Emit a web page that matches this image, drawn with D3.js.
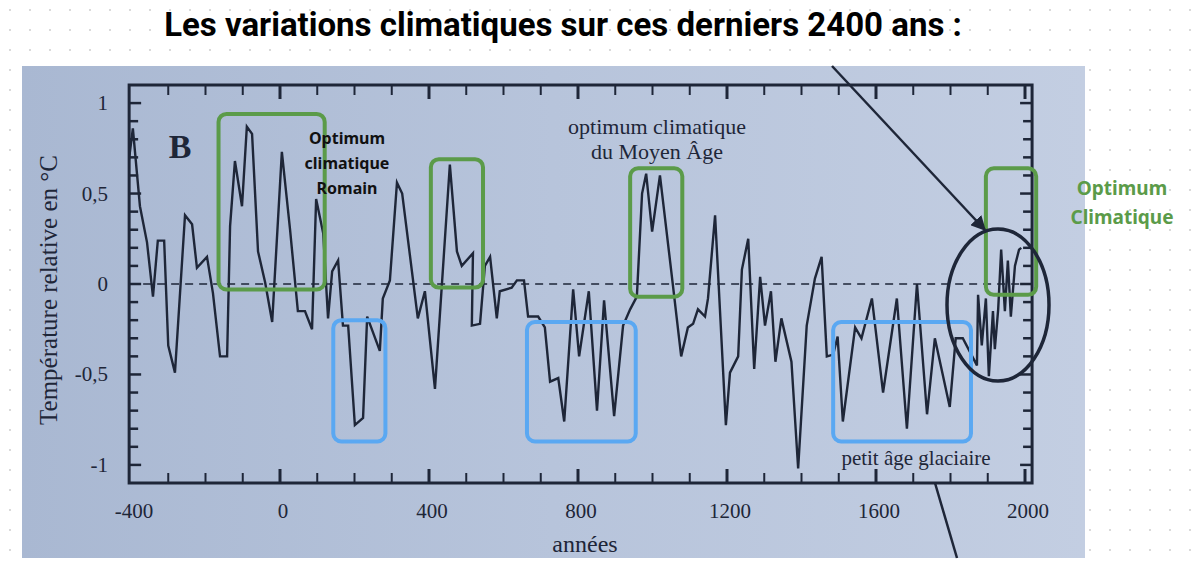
<!DOCTYPE html>
<html><head><meta charset="utf-8">
<script src="https://cdn.jsdelivr.net/npm/d3@7"></script>
<style>body{margin:0;background:#fff}svg{display:block}</style></head>
<body><svg id="c" width="1200" height="567"></svg>
<script>
const years=[-423,-395,-376,-357,-341,-328,-311,-300,-282,-255,-236,-223,-196,-180,-161,-142,-134,-121,-102,-89,-75,-59,-40,-21,5,27,48,67,86,97,116,129,140,156,169,183,201,223,234,268,276,295,314,328,370,389,416,456,475,488,518,515,537,550,564,582,590,622,636,655,666,693,711,725,747,763,787,803,829,851,870,897,921,940,958,972,983,999,1020,1055,1077,1095,1109,1122,1141,1149,1168,1197,1208,1230,1240,1257,1273,1289,1302,1318,1330,1346,1373,1391,1414,1436,1454,1468,1485,1497,1511,1544,1561,1589,1619,1656,1683,1710,1737,1758,1798,1814,1833,1871,1874,1884,1895,1903,1914,1919,1928,1936,1946,1954,1962,1973,1984,1990];
const temps=[0.4,0.86,0.43,0.23,-0.07,0.24,0.24,-0.34,-0.49,0.38,0.33,0.09,0.15,-0.05,-0.4,-0.4,0.32,0.68,0.43,0.87,0.83,0.18,0.01,-0.21,0.73,0.3,-0.15,-0.15,-0.25,0.47,0.28,-0.19,0.07,0.13,-0.23,-0.23,-0.78,-0.74,-0.18,-0.37,-0.08,0.02,0.56,0.5,-0.19,-0.04,-0.58,0.66,0.18,0.1,0.17,-0.23,-0.22,0.1,0.15,-0.19,-0.04,-0.02,0.02,0.02,-0.18,-0.18,-0.24,-0.54,-0.52,-0.76,-0.03,-0.4,-0.04,-0.7,-0.09,-0.73,-0.23,-0.14,-0.07,0.5,0.61,0.29,0.6,-0.01,-0.4,-0.24,-0.22,-0.14,-0.18,-0.08,0.38,-0.78,-0.49,-0.4,0.08,0.25,-0.47,0.04,-0.23,-0.04,-0.43,-0.19,-0.43,-1.02,-0.23,0.03,0.15,-0.4,-0.39,-0.29,-0.76,-0.24,-0.3,-0.08,-0.6,-0.08,-0.8,0,-0.72,-0.3,-0.68,-0.3,-0.3,-0.45,-0.06,-0.34,-0.08,-0.51,-0.15,-0.36,-0.14,0.19,-0.15,0.13,-0.18,0.1,0.19,0.2];
const xTicks=[-400,0,400,800,1200,1600,2000];
const yTicks=[1,0.5,0,-0.5,-1];
const yTickLabels=["1","0,5","0","-0,5","-1"];
const greenBoxes=[[-165,120,0.94,-0.03],[405,545,0.69,-0.02],[940,1080,0.64,-0.07],[1895,2030,0.64,-0.06]];
const blueBoxes=[[143,283,-0.2,-0.87],[663,955,-0.21,-0.87],[1485,1855,-0.21,-0.87]];

const svg=d3.select("#c");
const dots=svg.append("g");
for(let x=10;x<1200;x+=20)for(let y=10;y<567;y+=20)dots.append("circle").attr("cx",x).attr("cy",y).attr("r",0.9).attr("fill","#c8c8c8");
const grad=svg.append("defs").append("linearGradient").attr("id","pg").attr("x1",0).attr("x2",1);
grad.append("stop").attr("offset",0).attr("stop-color","#a9b8d2");
grad.append("stop").attr("offset",0.5).attr("stop-color","#b7c4db");
grad.append("stop").attr("offset",1).attr("stop-color","#c3cee2");
svg.append("rect").attr("x",22).attr("y",66).attr("width",1063).attr("height",492).attr("fill","url(#pg)");
svg.append("text").attr("x",563).attr("y",36).attr("text-anchor","middle").attr("font-family","Roboto, 'Noto Sans', sans-serif").attr("font-weight",700).attr("font-size",33).attr("fill","#000").text("Les variations climatiques sur ces derniers 2400 ans :");

const x=d3.scaleLinear().domain([-400,2000]).range([131,1025]);
const y=d3.scaleLinear().domain([-1.1,1.1]).range([483,85]);
const ink="#1e2638", serif="'Liberation Serif','DejaVu Serif',serif";
const xl=x(-405), xr=x(2019);
const clip=svg.append("defs").append("clipPath").attr("id","cl").append("rect").attr("x",xl).attr("y",85).attr("width",xr-xl).attr("height",398);
svg.append("line").attr("x1",xl).attr("x2",xr).attr("y1",y(0)).attr("y2",y(0)).attr("stroke",ink).attr("stroke-width",1.3).attr("stroke-dasharray","8,6");
const g=svg.append("g").attr("stroke",ink);
d3.range(-300,2001,100).forEach(v=>{const L=v%400===0?14:10;
 g.append("line").attr("x1",x(v)).attr("x2",x(v)).attr("y1",85).attr("y2",85+L).attr("stroke-width",v%400===0?3:2);
 g.append("line").attr("x1",x(v)).attr("x2",x(v)).attr("y1",483).attr("y2",483-L).attr("stroke-width",v%400===0?3:2);});
d3.range(-10,11).forEach(i=>{const v=i/10;const L=i%5===0?12:9;
 g.append("line").attr("x1",xl).attr("x2",xl+L).attr("y1",y(v)).attr("y2",y(v)).attr("stroke-width",2.5);
 g.append("line").attr("x1",xr).attr("x2",xr-L).attr("y1",y(v)).attr("y2",y(v)).attr("stroke-width",2.5);});
svg.append("rect").attr("x",xl).attr("y",85).attr("width",xr-xl).attr("height",398).attr("fill","none").attr("stroke",ink).attr("stroke-width",3);
const pts=years.map((d,i)=>[d,temps[i]]);
svg.append("path").datum(pts).attr("clip-path","url(#cl)").attr("d",d3.line().x(d=>x(d[0])).y(d=>y(d[1]))).attr("fill","none").attr("stroke",ink).attr("stroke-width",2.4).attr("stroke-linejoin","miter");
xTicks.forEach(v=>svg.append("text").attr("x",x(v)+3).attr("y",518).attr("text-anchor","middle").attr("font-family",serif).attr("font-size",21).attr("fill",ink).text(v));
yTicks.forEach((v,i)=>svg.append("text").attr("x",108).attr("y",y(v)+7).attr("text-anchor","end").attr("font-family",serif).attr("font-size",21).attr("fill",ink).text(yTickLabels[i]));
svg.append("text").attr("x",585).attr("y",552).attr("text-anchor","middle").attr("font-family",serif).attr("font-size",24).attr("fill",ink).text("années");
svg.append("text").attr("transform","translate(57,290) rotate(-90)").attr("text-anchor","middle").attr("font-family",serif).attr("font-size",25).attr("fill",ink).text("Température relative en °C");
svg.append("text").attr("x",180).attr("y",158).attr("text-anchor","middle").attr("font-family",serif).attr("font-weight",700).attr("font-size",34).attr("fill",ink).text("B");
svg.append("text").attr("x",657).attr("y",134).attr("text-anchor","middle").attr("font-family",serif).attr("font-size",22).attr("fill",ink).text("optimum climatique");
svg.append("text").attr("x",657).attr("y",159).attr("text-anchor","middle").attr("font-family",serif).attr("font-size",22).attr("fill",ink).text("du Moyen Âge");
svg.append("text").attr("x",916).attr("y",465).attr("text-anchor","middle").attr("font-family",serif).attr("font-size",21).attr("fill",ink).text("petit âge glaciaire");
greenBoxes.forEach(b=>svg.append("rect").attr("x",x(b[0])).attr("y",y(b[2])).attr("width",x(b[1])-x(b[0])).attr("height",y(b[3])-y(b[2])).attr("rx",8).attr("fill","none").attr("stroke","#5b9b49").attr("stroke-width",4));
blueBoxes.forEach(b=>svg.append("rect").attr("x",x(b[0])).attr("y",y(b[2])).attr("width",x(b[1])-x(b[0])).attr("height",y(b[3])-y(b[2])).attr("rx",8).attr("fill","none").attr("stroke","#5aa8f2").attr("stroke-width",4));
["Optimum","climatique","Romain"].forEach((t,i)=>svg.append("text").attr("x",347).attr("y",144+i*25).attr("text-anchor","middle").attr("font-family","'Noto Sans',sans-serif").attr("font-weight",700).attr("font-size",16).attr("fill","#111").text(t));
svg.append("ellipse").attr("cx",998).attr("cy",305).attr("rx",51).attr("ry",76).attr("fill","none").attr("stroke",ink).attr("stroke-width",3.5);
svg.append("defs").append("marker").attr("id","ah").attr("viewBox","0 0 10 10").attr("refX",9).attr("refY",5).attr("markerWidth",6).attr("markerHeight",6).attr("orient","auto").append("path").attr("d","M0,0L10,5L0,10z").attr("fill",ink);
svg.append("line").attr("x1",832).attr("y1",66).attr("x2",985).attr("y2",230).attr("stroke",ink).attr("stroke-width",2.5).attr("marker-end","url(#ah)");
svg.append("line").attr("x1",935).attr("y1",483).attr("x2",957).attr("y2",558).attr("stroke",ink).attr("stroke-width",2.5);
["Optimum","Climatique"].forEach((t,i)=>svg.append("text").attr("x",1122).attr("y",195+i*29).attr("text-anchor","middle").attr("font-family","'Noto Sans',sans-serif").attr("font-weight",700).attr("font-size",19).attr("fill","#5b9b49").text(t));
</script></body></html>
